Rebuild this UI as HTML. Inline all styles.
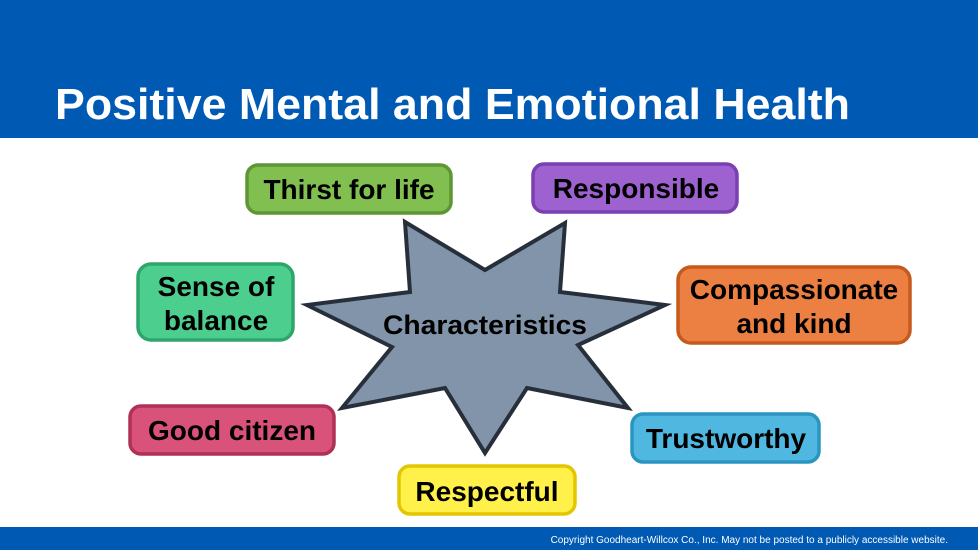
<!DOCTYPE html>
<html><head><style>
body{margin:0;width:978px;height:550px;overflow:hidden;background:#fff;font-family:"Liberation Sans",sans-serif}
</style></head><body>
<svg width="978" height="550" xmlns="http://www.w3.org/2000/svg" font-family="Liberation Sans, sans-serif">
<rect x="0" y="0" width="978" height="138" fill="#0059b3"/>
<text x="55" y="119" font-size="44" font-weight="bold" fill="#fff" textLength="795" lengthAdjust="spacingAndGlyphs">Positive Mental and Emotional Health</text>
<rect x="0" y="527" width="978" height="23" fill="#0059b3"/>
<text x="948" y="543" font-size="10" fill="#fff" text-anchor="end">Copyright Goodheart-Willcox Co., Inc.  May not be posted to a publicly accessible website.</text>
<polygon points="405,222 485,270 565,223 560,292 665,305 578,345 628,408 527,388 485,453 445,388 342,408 392,347 307,305 410,292" fill="#8294aa" stroke="#262f3a" stroke-width="4" stroke-linejoin="miter"/>
<text x="485" y="334" font-size="27" font-weight="bold" text-anchor="middle" textLength="204" lengthAdjust="spacingAndGlyphs">Characteristics</text>
<g font-weight="bold" font-size="28" text-anchor="middle" stroke-width="3.5">
<rect x="247" y="165" width="204" height="48" rx="11" fill="#80bf50" stroke="#5e9535"/>
<text x="349" y="199">Thirst for life</text>
<rect x="533" y="164" width="204" height="48" rx="11" fill="#9d62d0" stroke="#7a3fb0"/>
<text x="636" y="198">Responsible</text>
<rect x="138" y="264" width="155" height="76" rx="13" fill="#4ccf8e" stroke="#2ea56a"/>
<text x="216" y="296">Sense of</text><text x="216" y="330">balance</text>
<rect x="678" y="267" width="232" height="76" rx="13" fill="#eb8042" stroke="#c65a1c"/>
<text x="794" y="299">Compassionate</text><text x="794" y="333">and kind</text>
<rect x="130" y="406" width="204" height="48" rx="11" fill="#d9527a" stroke="#b03058"/>
<text x="232" y="440">Good citizen</text>
<rect x="632" y="414" width="187" height="48" rx="11" fill="#50b8e0" stroke="#2a95c0"/>
<text x="726" y="448">Trustworthy</text>
<rect x="399" y="466" width="176" height="48" rx="11" fill="#fff04a" stroke="#e3c500"/>
<text x="487" y="501">Respectful</text>
</g>
</svg>
</body></html>
